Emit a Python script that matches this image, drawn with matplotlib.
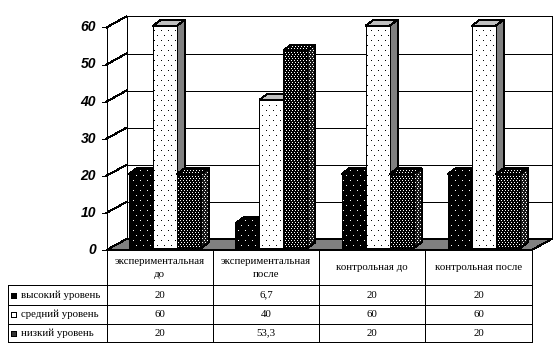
import numpy as np
import matplotlib
matplotlib.use('Agg')
import matplotlib.pyplot as plt
from matplotlib.patches import Polygon

categories = ['экспериментальная\nдо', 'экспериментальная\nпосле', 'контрольная до', 'контрольная после']
series_names = ['высокий уровень', 'средний уровень', 'низкий уровень']
high = [20, 6.7, 20, 20]
mid = [60, 40, 60, 60]
low = [20, 53.3, 20, 20]
value_labels = [['20', '6,7', '20', '20'], ['60', '40', '60', '60'], ['20', '53,3', '20', '20']]
yticks = [0, 10, 20, 30, 40, 50, 60]

plt.rcParams['lines.antialiased'] = False
plt.rcParams['patch.antialiased'] = False

W, H = 560, 360
X0, CAT_W = 106.5, 106.3   # левый край и ширина категории, px
Y0, PER_UNIT = 250.0, 3.71  # ноль и пикселей на единицу
LW = 0.72  # один пиксель

fig = plt.figure(figsize=(W / 100, H / 100), dpi=100)
ax = fig.add_axes([0, 0, 1, 1])
ax.set_xlim(-X0 / CAT_W, (W - X0) / CAT_W)
ax.set_ylim((Y0 - H) / PER_UNIT, Y0 / PER_UNIT)
ax.axis('off')

# сдвиг задней стенки и глубина столбика в единицах данных
WALL_X, WALL_Y = 20 / CAT_W, 11 / PER_UNIT
DEPTH_X, DEPTH_Y = 8 / CAT_W, 6 / PER_UNIT
BASE_X, BASE_Y = 22.5 / CAT_W, 1.7 / PER_UNIT
BAR_W = 24 / CAT_W
N = len(categories)
TOP = yticks[-1]


def texture(step_x, step_y, dot, back):
    # точечная заливка как в Excel: шахматный порядок
    img = np.full((H, W), back, dtype=float)
    for row, y in enumerate(range(0, H, step_y)):
        shift = (step_x // 2) * (row % 2)
        img[y, (np.arange(0, W, step_x) + shift) % W] = dot
    return img


def fill(pts, img, z):
    poly = Polygon(pts, closed=True, edgecolor='black', linewidth=LW, zorder=z + 0.1)
    poly.set_fill(False)
    ax.add_patch(poly)
    clip = Polygon(pts, closed=True, transform=ax.transData, facecolor='none', edgecolor='none')
    ax.add_patch(clip)
    im = ax.imshow(img, cmap='gray', vmin=0, vmax=1, interpolation='nearest', aspect='auto',
                   extent=[ax.get_xlim()[0], ax.get_xlim()[1], ax.get_ylim()[0], ax.get_ylim()[1]],
                   origin='upper', zorder=z)
    im.set_clip_path(clip)


def solid(pts, color, z):
    ax.add_patch(Polygon(pts, closed=True, facecolor=color, edgecolor='black', linewidth=LW, zorder=z))


xl, yl = ax.get_xlim(), ax.get_ylim()

# пол
solid([(0, 0), (N, 0), (N + WALL_X, WALL_Y), (WALL_X, WALL_Y)], '#808080', 1)
# задняя стенка и сетка
ax.plot([WALL_X, WALL_X, N + WALL_X, N + WALL_X], [WALL_Y, TOP + WALL_Y, TOP + WALL_Y, WALL_Y],
        color='black', lw=LW, zorder=1)
for t in yticks[1:-1]:
    ax.plot([WALL_X, N + WALL_X], [t + WALL_Y, t + WALL_Y], color='black', lw=LW, zorder=0.5)
for t in yticks[1:]:
    ax.plot([0, WALL_X], [t, t + WALL_Y], color='black', lw=LW, zorder=0.5)
# ось
ax.plot([0, 0], [0, TOP], color='black', lw=LW, zorder=1)
for t in yticks:
    ax.plot([-4.5 / CAT_W, 0], [t, t], color='black', lw=LW, zorder=1)
    ax.text(-10.5 / CAT_W, t, str(t), ha='right', va='center', fontsize=10, fontweight='bold',
            fontstyle='italic', family='Liberation Sans', color='black')

tex_high = texture(7, 5, 1, 0)
tex_mid = texture(7, 5, 0, 1)
tex_low = texture(3, 2, 1, 0)
tex_low_side = texture(3, 2, 1, 0.1)

z = 2
for i in range(N):
    for j, vals in enumerate([high, mid, low]):
        v = vals[i]
        x1 = i + BASE_X + j * BAR_W
        x2 = x1 + BAR_W
        y1 = BASE_Y
        y2 = y1 + v
        # боковая грань, верх, передняя
        side = [(x2, y1), (x2 + DEPTH_X, y1 + DEPTH_Y), (x2 + DEPTH_X, y2 + DEPTH_Y), (x2, y2)]
        top = [(x1, y2), (x2, y2), (x2 + DEPTH_X, y2 + DEPTH_Y), (x1 + DEPTH_X, y2 + DEPTH_Y)]
        front = [(x1, y1), (x2, y1), (x2, y2), (x1, y2)]
        if j == 1:
            solid(side, '#808080', z)
            solid(top, '#c0c0c0', z)
            fill(front, tex_mid, z + 0.5)
        elif j == 0:
            fill(side, tex_high, z)
            fill(top, tex_high, z)
            fill(front, tex_high, z + 0.5)
        else:
            fill(side, tex_low_side, z)
            fill(top, tex_low, z)
            fill(front, tex_low, z + 0.5)
        z += 1

ax.set_xlim(xl)
ax.set_ylim(yl)

# таблица данных в пикселях
tab = fig.add_axes([0, 0, 1, 1], facecolor='none')
tab.set_xlim(0, W)
tab.set_ylim(H, 0)
tab.axis('off')
col_x = [X0 + CAT_W * i for i in range(N + 1)]
row_y = [250, 285, 305, 324, 342]
LEFT = 7.5
for x in col_x:
    tab.plot([x, x], [row_y[0], row_y[-1]], color='black', lw=LW)
for y in row_y[1:]:
    tab.plot([LEFT, col_x[-1]], [y, y], color='black', lw=LW)
tab.plot([LEFT, LEFT], [row_y[1], row_y[-1]], color='black', lw=LW)

font = dict(family='Liberation Serif', fontsize=7.85, color='black')
for i, c in enumerate(categories):
    tab.text(col_x[i] + CAT_W / 2, (row_y[0] + row_y[1]) / 2 + 0.5, c, ha='center', va='center', linespacing=1.45, **font)
swatches = ['black', 'white', '#333333']
for r, name in enumerate(series_names):
    cy = (row_y[r + 1] + row_y[r + 2]) / 2
    tab.text(21, cy, name, ha='left', va='center', **font)
    tab.add_patch(plt.Rectangle((10.5, cy - 2.5), 5, 5, facecolor=swatches[r], edgecolor='black', lw=LW))
    for i in range(N):
        tab.text(col_x[i] + CAT_W / 2, cy, value_labels[r][i], ha='center', va='center', **font)

fig.savefig('out.png', dpi=100)
